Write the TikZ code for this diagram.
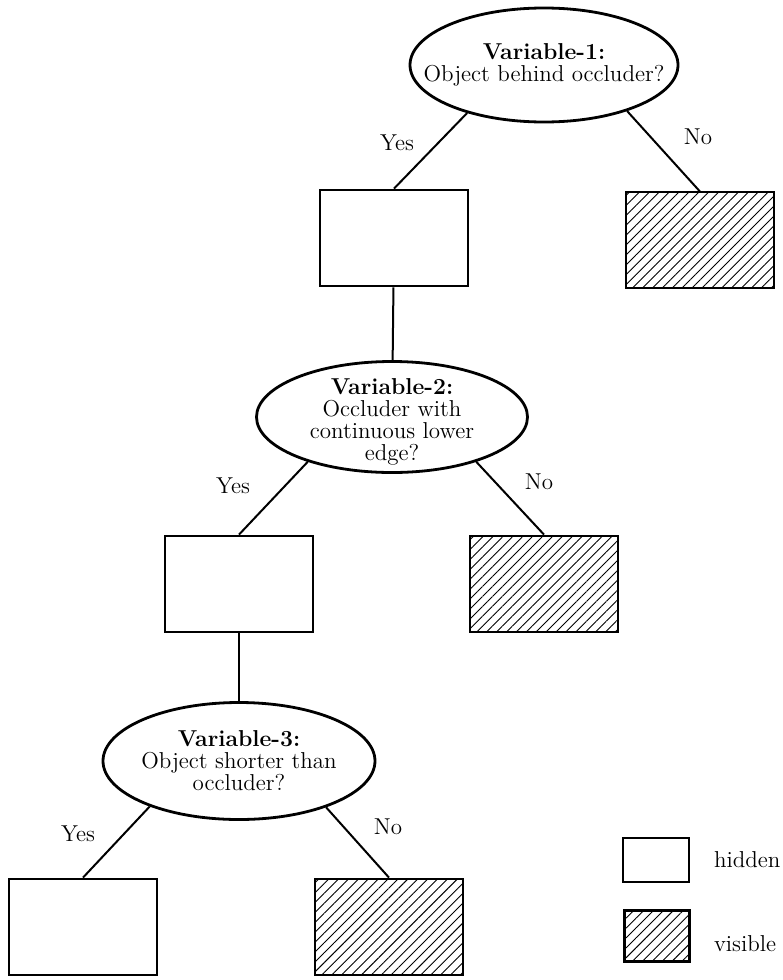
\documentclass[tikz,border=0pt]{standalone}
\usepackage{tikz}
\usetikzlibrary{shapes.geometric, patterns.meta, positioning}

\begin{document}
\begin{tikzpicture}[x=0.5pt,y=-0.5pt,-,
                    question node/.style={ellipse,draw,line width=1.4pt,inner sep=-30pt,align=center,
                                          font=\fontsize{11.5}{11}\selectfont},
                    leaf node/.style={rectangle,draw,line width=1.4pt,inner sep=0pt,
                                      minimum width=74pt,minimum height=48pt},
                    seen node/.style={leaf node,pattern={Lines[angle=45,distance=3.5pt,line width=0.45pt]}},
                    answer/.style={font=\fontsize{11.5}{13}\selectfont},
                    branch/.style={line width=1pt}]

  \useasboundingbox (0,0) rectangle (782,980);

  % first question
  \node[question node,minimum width=134pt,minimum height=57pt] (v1) at (544,65)
       {\textbf{Variable-1:}\\Object behind occluder?};
  \node[leaf node] (h1) at (394,238) {};
  \node[seen node] (s1) at (700,240) {};

  % second question
  \node[question node,minimum width=135.5pt,minimum height=55.5pt] (v2) at (392,417)
       {\rule{0pt}{13pt}\textbf{Variable-2:}\\Occluder with\\continuous lower\\edge?};
  \node[leaf node] (h2) at (239,584) {};
  \node[seen node] (s2) at (544,584) {};

  % third question
  \node[question node,minimum width=136pt,minimum height=58.5pt] (v3) at (239,761)
       {\textbf{Variable-3:}\\Object shorter than\\occluder?};
  \node[leaf node] (h3) at (83,927) {};
  \node[seen node] (s3) at (389,927) {};

  % legend
  \node[leaf node,minimum width=33pt,minimum height=22pt,line width=1.1pt] (kh) at (656,860) {};
  \node[seen node,minimum width=32.5pt,minimum height=25.5pt,line width=1.1pt] (ks) at (657,936) {};
  \node[answer,anchor=west] (kht) at (707,860) {hidden};
  \node[answer,anchor=west] (kst) at (707,944) {visible};

  % answers
  \node[answer] (y1) at (397,143) {Yes};
  \node[answer] (n1) at (698,137) {No};
  \node[answer] (y2) at (233,486) {Yes};
  \node[answer] (n2) at (539,482) {No};
  \node[answer] (y3) at (78,834) {Yes};
  \node[answer] (n3) at (388,827) {No};

  \draw[branch] (v1.212) -- (h1.north);
  \draw[branch] (v1.331) -- (s1.north);
  \draw[branch] (h1) -- (v2);
  \draw[branch] (v2.208) -- (h2.north);
  \draw[branch] (v2.332) -- (s2.north);
  \draw[branch] (h2) -- (v3);
  \draw[branch] (v3.207) -- (h3.north);
  \draw[branch] (v3.332) -- (s3.north);

\end{tikzpicture}
\end{document}
